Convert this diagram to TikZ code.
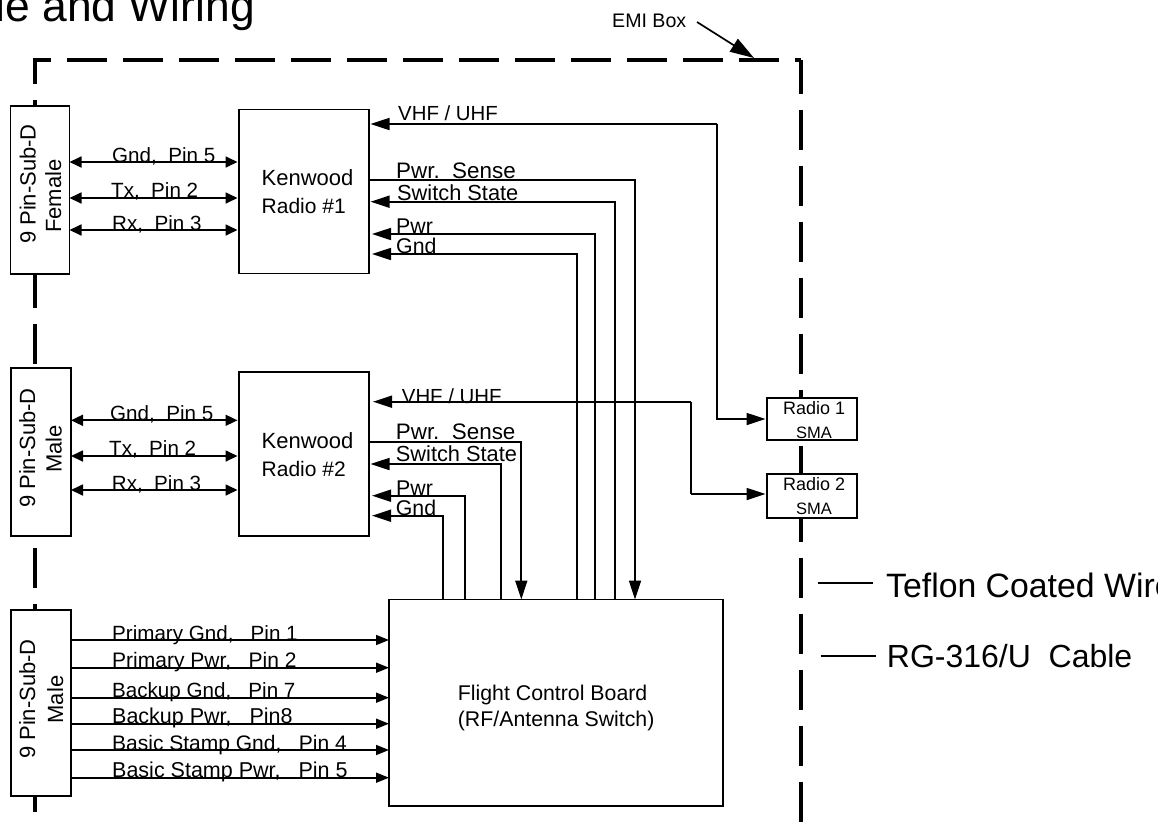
\documentclass[tikz,border=0pt]{standalone}
\usepackage{fontspec}
\setmainfont{Liberation Sans}
\usetikzlibrary{arrows.meta}
\tikzset{
  emibox/.style={line width=4pt},
  boxnode/.style={draw,fill=white,line width=1.8pt,inner sep=0pt,outer sep=0pt},
  wire/.style={line width=1.7pt},
  headed/.style={wire,shorten >=1.5pt,-{Triangle[length=19pt,width=12pt]}},
  twoway/.style={wire,{Triangle[length=12pt,width=11pt]}-{Triangle[length=12pt,width=11pt]},shorten >=1.5pt},
  lowhead/.style={wire,-{Triangle[length=13pt,width=10pt]}},
  txt/.style={inner sep=0pt,anchor=base west,font=\fontsize{21.3}{24}\selectfont},
  pintxt/.style={txt,font=\fontsize{20.6}{24}\selectfont},
  kwtxt/.style={txt,font=\fontsize{22}{26}\selectfont},
  vhftxt/.style={txt,font=\fontsize{20.4}{24}\selectfont},
  snstxt/.style={txt,font=\fontsize{22.4}{26}\selectfont},
  swtxt/.style={txt,font=\fontsize{21.8}{26}\selectfont},
  smatxt/.style={txt,font=\fontsize{18}{20}\selectfont},
  legtxt/.style={txt,font=\fontsize{32}{36}\selectfont},
  contxt/.style={inner sep=0pt,anchor=base,rotate=90,font=\fontsize{22}{24}\selectfont}
}
\begin{document}
\begin{tikzpicture}[x=1pt,y=-1pt]
\useasboundingbox (0,0) rectangle (1171,828);
\clip (0,0) rectangle (1157,828);

\coordinate (cnw) at (35,60);
\coordinate (cne) at (801,60);
\coordinate (csw) at (35,812);
\coordinate (cse) at (801,822);
\coordinate (ctop) at (33,60);
\draw[emibox,dash pattern=on 40pt off 16pt,dash phase=22pt] (ctop) -- (cne);
\draw[emibox,dash pattern=on 40pt off 16pt,dash phase=16pt] (cnw) -- (csw);
\draw[emibox,dash pattern=on 40pt off 16pt,dash phase=6pt] (cne) -- (cse);

\node[txt,font=\fontsize{44.4}{48}\selectfont] (title) at (-4.5,21.7) {le and Wiring};

\node[txt,font=\fontsize{19.6}{22}\selectfont] (emi) at (612,27) {EMI Box};
\coordinate (emia) at (697,22);
\coordinate (emib) at (754,58);
\draw[wire,-{Triangle[length=24pt,width=15pt]}] (emia) -- (emib);

\node[boxnode,minimum width=59pt,minimum height=168pt] (con1) at (40,189.6) {};
\node[boxnode,minimum width=60pt,minimum height=168pt] (con2) at (41,452) {};
\node[boxnode,minimum width=60pt,minimum height=186pt] (con3) at (41,703) {};
\node[boxnode,minimum width=130pt,minimum height=164pt] (kw1) at (304,191.5) {};
\node[boxnode,minimum width=130pt,minimum height=164pt] (kw2) at (304,454) {};
\node[boxnode,minimum width=334pt,minimum height=206.5pt] (fcb) at (556,702.75) {};
\node[boxnode,minimum width=90pt,minimum height=42pt] (sma1) at (812,419) {};
\node[boxnode,minimum width=90pt,minimum height=44pt] (sma2) at (812,496) {};

\node[contxt] (con1a) at (35.6,184) {9 Pin-Sub-D};
\node[contxt] (con1b) at (61,196) {Female};
\node[contxt] (con2a) at (35,448) {9 Pin-Sub-D};
\node[contxt] (con2b) at (61.7,449) {Male};
\node[contxt] (con3a) at (35,699) {9 Pin-Sub-D};
\node[contxt] (con3b) at (63,699.5) {Male};

\node[kwtxt] (kw1a) at (261.5,185) {Kenwood};
\node[kwtxt,font=\fontsize{21}{26}\selectfont] (kw1b) at (261.5,213) {Radio \#1};
\node[kwtxt] (kw2a) at (261.5,448) {Kenwood};
\node[kwtxt,font=\fontsize{21}{26}\selectfont] (kw2b) at (261.5,476.7) {Radio \#2};
\node[txt] (fcba) at (457.7,700) {Flight Control Board};
\node[txt] (fcbb) at (457.7,726.7) {(RF/Antenna Switch)};
\node[smatxt] (sma1a) at (783,414) {Radio 1};
\node[smatxt,font=\fontsize{16.5}{18}\selectfont] (sma1b) at (796,438) {SMA};
\node[smatxt] (sma2a) at (783,490) {Radio 2};
\node[smatxt,font=\fontsize{16.5}{18}\selectfont] (sma2b) at (796,514) {SMA};

\coordinate (gnd1) at (0,162);
\coordinate (tx1) at (0,198);
\coordinate (rx1) at (0,230);
\draw[twoway] (con1.east |- gnd1) -- (kw1.west |- gnd1);
\draw[twoway] (con1.east |- tx1) -- (kw1.west |- tx1);
\draw[twoway] (con1.east |- rx1) -- (kw1.west |- rx1);
\node[pintxt] (gnd1t) at (112,162) {Gnd,~~Pin 5};
\node[pintxt] (tx1t) at (111,197) {Tx,~~Pin 2};
\node[pintxt] (rx1t) at (112,230) {Rx,~~Pin 3};

\coordinate (gnd2) at (0,420.3);
\coordinate (tx2) at (0,456);
\coordinate (rx2) at (0,490);
\draw[twoway] (con2.east |- gnd2) -- (kw2.west |- gnd2);
\draw[twoway] (con2.east |- tx2) -- (kw2.west |- tx2);
\draw[twoway] (con2.east |- rx2) -- (kw2.west |- rx2);
\node[pintxt] (gnd2t) at (110,420.3) {Gnd,~~Pin 5};
\node[pintxt] (tx2t) at (109,455) {Tx,~~Pin 2};
\node[pintxt] (rx2t) at (111.7,490) {Rx,~~Pin 3};

\coordinate (vhf1) at (717,124);
\coordinate (vhf2) at (691,401.7);
\coordinate (vhf2b) at (691,494);
\coordinate (sns1) at (635,180);
\coordinate (sw1) at (615,201.7);
\coordinate (pwr1) at (595,234);
\coordinate (gd1) at (577.3,254);
\coordinate (sns2) at (521.3,441.7);
\coordinate (sw2) at (501,464);
\coordinate (pwr2) at (465,495.7);
\coordinate (gd2) at (443,515.7);

\draw[headed] (vhf1) -- (kw1.east |- vhf1);
\draw[headed] (vhf1) |- (sma1.west);
\draw[headed,shorten >=4pt] (vhf2) -- (kw2.east |- vhf2);
\draw[wire] (vhf2) -- (vhf2b);
\draw[headed] (vhf2b) -- (sma2.west |- vhf2b);

\draw[headed,shorten >=0pt] (kw1.east |- sns1) -- (sns1) -- (sns1 |- fcb.north);
\draw[headed] (sw1 |- fcb.north) -- (sw1) -- (kw1.east |- sw1);
\draw[headed,shorten >=3pt] (pwr1 |- fcb.north) -- (pwr1) -- (kw1.east |- pwr1);
\draw[headed,shorten >=3pt] (gd1 |- fcb.north) -- (gd1) -- (kw1.east |- gd1);
\draw[headed,shorten >=0pt] (kw2.east |- sns2) -- (sns2) -- (sns2 |- fcb.north);
\draw[headed] (sw2 |- fcb.north) -- (sw2) -- (kw2.east |- sw2);
\draw[headed,shorten >=3pt] (pwr2 |- fcb.north) -- (pwr2) -- (kw2.east |- pwr2);
\draw[headed,shorten >=3pt] (gd2 |- fcb.north) -- (gd2) -- (kw2.east |- gd2);

\node[vhftxt] (vhf1t) at (398,120) {VHF / UHF};
\node[snstxt] (sns1t) at (396,178) {Pwr.~~Sense};
\node[swtxt] (sw1t) at (397,200) {Switch State};
\node[txt] (pwr1t) at (396,233) {Pwr};
\node[txt] (gd1t) at (396,253) {Gnd};
\node[vhftxt] (vhf2t) at (401.7,403) {VHF / UHF};
\node[snstxt] (sns2t) at (395.7,439) {Pwr.~~Sense};
\node[swtxt] (sw2t) at (395.7,461.7) {Switch State};
\node[txt] (pwr2t) at (396,495) {Pwr};
\node[txt] (gd2t) at (395.7,515) {Gnd};

\coordinate (pgnd) at (0,640);
\coordinate (ppwr) at (0,667.7);
\coordinate (bgnd) at (0,697.7);
\coordinate (bpwr) at (0,723.7);
\coordinate (sgnd) at (0,750);
\coordinate (spwr) at (0,777.7);
\draw[lowhead] (con3.east |- pgnd) -- (fcb.west |- pgnd);
\draw[lowhead] (con3.east |- ppwr) -- (fcb.west |- ppwr);
\draw[lowhead] (con3.east |- bgnd) -- (fcb.west |- bgnd);
\draw[lowhead] (con3.east |- bpwr) -- (fcb.west |- bpwr);
\draw[lowhead] (con3.east |- sgnd) -- (fcb.west |- sgnd);
\draw[lowhead] (con3.east |- spwr) -- (fcb.west |- spwr);
\node[pintxt] (pgndt) at (112,640) {Primary Gnd,~~~Pin 1};
\node[pintxt,font=\fontsize{21}{24}\selectfont] (ppwrt) at (112,667.7) {Primary Pwr,~~~Pin 2};
\node[pintxt] (bgndt) at (112,697) {Backup Gnd,~~~Pin 7};
\node[pintxt,font=\fontsize{21.5}{24}\selectfont] (bpwrt) at (112,723) {Backup Pwr,~~~Pin8};
\node[pintxt,font=\fontsize{21}{24}\selectfont] (sgndt) at (112,750) {Basic Stamp Gnd,~~~Pin 4};
\node[pintxt,font=\fontsize{21.5}{24}\selectfont] (spwrt) at (112,777.7) {Basic Stamp Pwr,~~~Pin 5};

\coordinate (lega) at (818,583.3);
\coordinate (legb) at (873,583.3);
\coordinate (legc) at (820.7,656);
\coordinate (legd) at (876,656);
\draw[wire] (lega) -- (legb);
\draw[wire] (legc) -- (legd);
\node[legtxt,font=\fontsize{33.8}{36}\selectfont] (tefl) at (886,597.3) {Teflon Coated Wire};
\node[legtxt] (rg) at (886.7,667.3) {RG-316/U~~Cable};
\end{tikzpicture}
\end{document}
